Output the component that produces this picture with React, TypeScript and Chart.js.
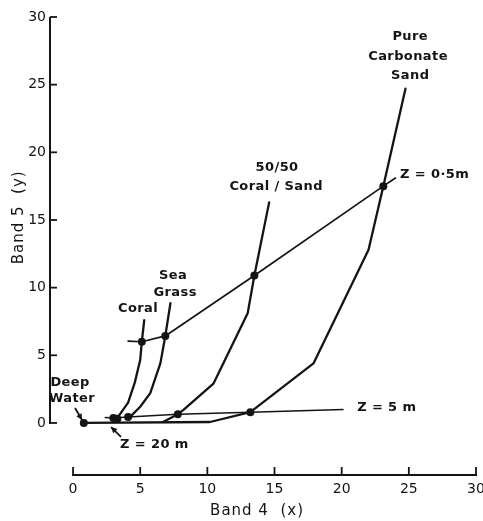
import { useEffect, useRef } from 'react';
import { Chart, registerables } from 'chart.js';

Chart.register(...registerables);

// Axis ticks
const tickValues = [0, 5, 10, 15, 20, 25, 30];

// Bottom-type curves (Band 4 = x, Band 5 = y)
const coralX = [3.0, 3.35, 4.1, 4.6, 5.0, 5.12, 5.3];
const coralY = [0.37, 0.45, 1.5, 3.0, 4.65, 6.0, 7.6];

const seaGrassX = [4.1, 4.25, 5.0, 5.75, 6.5, 6.87, 7.25];
const seaGrassY = [0.44, 0.45, 1.2, 2.2, 4.4, 6.43, 8.85];

const mixX = [6.7, 7.8, 8.2, 10.45, 13.0, 13.5, 14.6];
const mixY = [0.07, 0.65, 0.95, 2.9, 8.1, 10.9, 16.3];

const sandX = [0.8, 10.2, 13.2, 17.9, 22.0, 23.1, 24.75];
const sandY = [0.0, 0.07, 0.8, 4.4, 12.8, 17.5, 24.7];

// Depth lines
const z05X = [4.1, 5.12, 6.87, 13.5, 23.1, 24.0];
const z05Y = [6.05, 6.0, 6.43, 10.9, 17.5, 18.1];

const z5X = [2.4, 3.0, 4.1, 7.8, 13.2, 20.1];
const z5Y = [0.4, 0.37, 0.44, 0.65, 0.8, 1.0];

// Marked points
const dotX = [0.8, 3.0, 3.3, 4.1, 7.8, 13.2, 5.12, 6.87, 13.5, 23.1];
const dotY = [0.0, 0.37, 0.32, 0.44, 0.65, 0.8, 6.0, 6.43, 10.9, 17.5];

// Annotation labels
const labelTexts = ['Pure', 'Carbonate', 'Sand', '50/50', 'Coral / Sand', 'Sea', 'Grass', 'Coral', 'Deep', 'Water'];
const labelX = [25.1, 24.94, 25.1, 15.19, 15.12, 7.45, 7.6, 4.84, -0.22, -0.07];
const labelY = [28.53, 27.05, 25.65, 18.85, 17.44, 10.86, 9.6, 8.43, 2.96, 1.77];

const depthTexts = ['Z = 0·5m', 'Z = 5 m', 'Z = 20 m'];
const depthX = [24.35, 21.15, 3.5];
const depthY = [18.33, 1.11, -1.63];

// Arrows (from -> to)
const arrowFromX = [0.15, 3.57];
const arrowFromY = [1.11, -1.03];
const arrowToX = [0.67, 2.83];
const arrowToY = [0.22, -0.3];

const INK = '#141414';
const FONT = '"DejaVu Sans", "Liberation Sans", sans-serif';

const pts = (xs: number[], ys: number[]) => xs.map((x, i) => ({ x, y: ys[i] }));

const lineDs = (data: { x: number; y: number }[], width: number) => ({
  data,
  showLine: true,
  borderColor: INK,
  borderWidth: width,
  pointRadius: 0,
  borderJoinStyle: 'round' as const,
  borderCapStyle: 'round' as const,
  tension: 0,
});

const decorPlugin = {
  id: 'decor',
  afterDatasetsDraw(chart: any) {
    const { ctx, scales } = chart;
    const xs = scales.x;
    const ys = scales.y;
    const area = chart.chartArea;
    ctx.save();
    ctx.strokeStyle = INK;
    ctx.fillStyle = INK;
    ctx.lineCap = 'butt';

    // Y axis line and inward ticks
    const ax = area.left + 1;
    ctx.lineWidth = 2;
    ctx.beginPath();
    ctx.moveTo(ax, ys.getPixelForValue(30));
    ctx.lineTo(ax, ys.getPixelForValue(0) + 1);
    ctx.stroke();
    ctx.lineWidth = 1.8;
    tickValues.forEach((v) => {
      const p = ys.getPixelForValue(v);
      ctx.beginPath();
      ctx.moveTo(ax, p);
      ctx.lineTo(ax + 7, p);
      ctx.stroke();
    });

    // X axis line and inward ticks
    const ay = area.bottom - 1;
    ctx.lineWidth = 2;
    ctx.beginPath();
    ctx.moveTo(xs.getPixelForValue(0) - 1, ay);
    ctx.lineTo(xs.getPixelForValue(30) + 1, ay);
    ctx.stroke();
    ctx.lineWidth = 1.8;
    tickValues.forEach((v) => {
      const p = xs.getPixelForValue(v);
      ctx.beginPath();
      ctx.moveTo(p, ay);
      ctx.lineTo(p, ay - 8);
      ctx.stroke();
    });

    // Axis titles
    ctx.font = `15px ${FONT}`;
    (ctx as any).letterSpacing = '1px';
    ctx.textAlign = 'center';
    ctx.textBaseline = 'middle';
    ctx.fillText('Band 4  (x)', xs.getPixelForValue(13.7), 511);
    ctx.save();
    ctx.translate(19, ys.getPixelForValue(15.2));
    ctx.rotate(-Math.PI / 2);
    ctx.fillText('Band 5  (y)', 0, 0);
    ctx.restore();

    // Labels
    ctx.font = `bold 13px ${FONT}`;
    (ctx as any).letterSpacing = '0.4px';
    ctx.textAlign = 'center';
    labelTexts.forEach((t, i) => {
      ctx.fillText(t, xs.getPixelForValue(labelX[i]), ys.getPixelForValue(labelY[i]));
    });
    ctx.textAlign = 'left';
    depthTexts.forEach((t, i) => {
      ctx.fillText(t, xs.getPixelForValue(depthX[i]), ys.getPixelForValue(depthY[i]));
    });

    // Arrows
    ctx.lineWidth = 1.8;
    arrowFromX.forEach((fx, i) => {
      const x1 = xs.getPixelForValue(fx);
      const y1 = ys.getPixelForValue(arrowFromY[i]);
      const x2 = xs.getPixelForValue(arrowToX[i]);
      const y2 = ys.getPixelForValue(arrowToY[i]);
      const ang = Math.atan2(y2 - y1, x2 - x1);
      ctx.beginPath();
      ctx.moveTo(x1, y1);
      ctx.lineTo(x2, y2);
      ctx.stroke();
      const hl = 6;
      const hw = 3;
      ctx.beginPath();
      ctx.moveTo(x2, y2);
      ctx.lineTo(x2 - hl * Math.cos(ang) + hw * Math.sin(ang), y2 - hl * Math.sin(ang) - hw * Math.cos(ang));
      ctx.lineTo(x2 - hl * Math.cos(ang) - hw * Math.sin(ang), y2 - hl * Math.sin(ang) + hw * Math.cos(ang));
      ctx.closePath();
      ctx.fill();
    });
    ctx.restore();
  },
};

export default function App() {
  const ref = useRef<HTMLCanvasElement>(null);
  useEffect(() => {
    if (!ref.current) return;
    const tickOpts = {
      padding: 3,
      color: INK,
      font: { family: FONT, size: 14 },
      autoSkip: false,
      maxRotation: 0,
    };
    const chart = new Chart(ref.current, {
      type: 'scatter',
      data: {
        datasets: [
          lineDs(pts(coralX, coralY), 2.3),
          lineDs(pts(seaGrassX, seaGrassY), 2.3),
          lineDs(pts(mixX, mixY), 2.3),
          lineDs(pts(sandX, sandY), 2.3),
          lineDs(pts(z05X, z05Y), 1.7),
          lineDs(pts(z5X, z5Y), 1.5),
          {
            data: pts(dotX, dotY),
            showLine: false,
            pointRadius: 4,
            pointBackgroundColor: INK,
            pointBorderColor: INK,
            pointBorderWidth: 0,
          },
        ] as any,
      },
      options: {
        animation: false,
        responsive: false,
        maintainAspectRatio: false,
        devicePixelRatio: 1,
        layout: { padding: { left: 0, top: 17, right: 7, bottom: 0 } },
        plugins: { legend: { display: false }, tooltip: { enabled: false } },
        scales: {
          x: {
            type: 'linear',
            min: -1.79,
            max: 30,
            grid: { display: false, drawTicks: false },
            border: { display: false },
            ticks: { ...tickOpts, padding: 5 },
            afterBuildTicks: (s: any) => {
              s.ticks = tickValues.map((v) => ({ value: v }));
            },
            afterFit: (s: any) => {
              s.height = 45;
              s.paddingLeft = 0;
              s.paddingRight = 0;
            },
          },
          y: {
            type: 'linear',
            min: -3.92,
            max: 30,
            grid: { display: false, drawTicks: false },
            border: { display: false },
            ticks: tickOpts,
            afterBuildTicks: (s: any) => {
              s.ticks = tickValues.map((v) => ({ value: v }));
            },
            afterFit: (s: any) => {
              s.width = 49;
              s.paddingTop = 0;
              s.paddingBottom = 0;
            },
          },
        },
      } as any,
      plugins: [decorPlugin],
    });
    return () => chart.destroy();
  }, []);
  return (
    <div style={{ position: 'absolute', left: 0, top: 0, width: 483, height: 521, background: '#fff' }}>
      <canvas ref={ref} width={483} height={521} style={{ display: 'block', width: 483, height: 521 }} />
    </div>
  );
}
